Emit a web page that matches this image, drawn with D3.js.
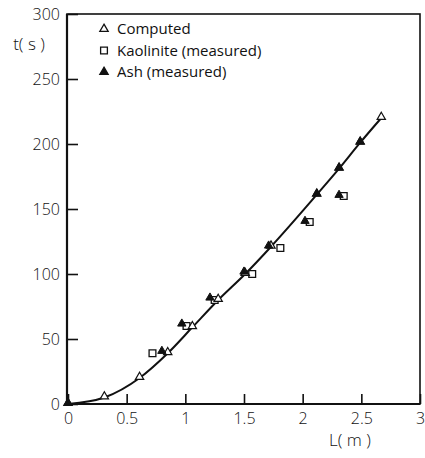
<!DOCTYPE html>
<html>
<head>
<meta charset="utf-8">
<script src="https://cdn.jsdelivr.net/npm/d3@7"></script>
<style>
  body { margin: 0; background: #fff; }
  text { font-family: "Open Sans", "DejaVu Sans", sans-serif; fill: #111; }
</style>
</head>
<body>
<svg width="425" height="458"></svg>
<script>
// values
var computedL = [0, 0.31, 0.61, 0.85, 1.06, 1.28, 1.51, 1.73, 2.12, 2.31, 2.49, 2.67];
var computedT = [0, 5, 20, 39, 59, 80, 100, 121, 161, 181, 201, 220];
var kaoliniteL = [0.72, 1.01, 1.25, 1.57, 1.81, 2.06, 2.35];
var kaoliniteT = [39, 60, 80, 100, 120, 140, 160];
var ashL = [0, 0.8, 0.97, 1.21, 1.5, 1.71, 2.02, 2.31, 2.12, 2.31, 2.49];
var ashT = [0, 40, 61, 81, 101, 121, 140, 160, 161, 181, 201];
var xTicks = [0, 0.5, 1, 1.5, 2, 2.5, 3];
var xTickLabels = ["0", "0.5", "1", "1.5", "2", "2.5", "3"];
var yTicks = [0, 50, 100, 150, 200, 250, 300];
var legendItems = ["Computed", "Kaolinite (measured)", "Ash (measured)"];

var svg = d3.select("svg"),
  margin = { top: 14, right: 5, bottom: 54, left: 68 },
  width = 420 - margin.left,
  height = 404 - margin.top;

var x = d3.scaleLinear().domain([0, 3]).range([0, 352]),
  y = d3.scaleLinear().domain([0, 300]).range([height, 0]);

var g = svg.append("g")
  .attr("transform", "translate(" + margin.left + "," + margin.top + ")");

// frame
g.append("rect")
  .attr("x", -1).attr("y", 0)
  .attr("width", width + 1).attr("height", height)
  .attr("fill", "none").attr("stroke", "#111").attr("stroke-width", 1.6);
g.append("line").attr("x1", -1).attr("x2", -1).attr("y1", 0).attr("y2", height)
  .attr("stroke", "#111").attr("stroke-width", 2.2);
g.append("line").attr("x1", -1).attr("x2", width).attr("y1", height).attr("y2", height)
  .attr("stroke", "#111").attr("stroke-width", 2.2);

// axes, ticks pointing inward
var xAxis = g.append("g")
  .attr("transform", "translate(0," + height + ")")
  .call(d3.axisBottom(x).tickValues(xTicks)
    .tickFormat(function(d, i) { return xTickLabels[i]; })
    .tickSizeInner(-10).tickSizeOuter(0).tickPadding(6));
xAxis.select(".domain").remove();
xAxis.selectAll("line").attr("stroke", "#111").attr("stroke-width", 1.6);
xAxis.selectAll("text").style("font-size", "16px").style("font-weight", "300").attr("dy", "0.85em");

var yAxis = g.append("g")
  .call(d3.axisLeft(y).tickValues(yTicks)
    .tickSizeInner(-10).tickSizeOuter(0).tickPadding(8));
yAxis.select(".domain").remove();
yAxis.selectAll("line").attr("stroke", "#111").attr("stroke-width", 1.6);
yAxis.selectAll("text").style("font-size", "16px").style("font-weight", "300");

// axis titles
svg.append("text").attr("x", 29).attr("y", 50)
  .attr("text-anchor", "middle").style("font-size", "17px").style("font-weight", "300").text("t( s )");
svg.append("text").attr("x", 350).attr("y", 446)
  .attr("text-anchor", "middle").style("font-size", "17px").style("font-weight", "300").text("L( m )");

// computed curve
var curveData = computedL.map(function(d, i) { return [d, computedT[i]]; });
g.append("path")
  .datum(curveData)
  .attr("fill", "none").attr("stroke", "#111").attr("stroke-width", 2)
  .attr("d", d3.line()
    .x(function(d) { return x(d[0]); })
    .y(function(d) { return y(d[1]); })
    .curve(d3.curveMonotoneX));

var tri = d3.symbol().type(d3.symbolTriangle).size(30);
var sq = d3.symbol().type(d3.symbolSquare).size(46);

// kaolinite squares
g.selectAll(".kao")
  .data(kaoliniteL)
  .enter().append("path")
  .attr("class", "kao")
  .attr("d", sq)
  .attr("transform", function(d, i) { return "translate(" + x(d) + "," + y(kaoliniteT[i]) + ")"; })
  .attr("fill", "#fff").attr("stroke", "#111").attr("stroke-width", 1.3);

// computed open triangles
g.selectAll(".comp")
  .data(computedL)
  .enter().append("path")
  .attr("class", "comp")
  .attr("d", tri)
  .attr("transform", function(d, i) { return "translate(" + x(d) + "," + (y(computedT[i]) - 1) + ")"; })
  .attr("fill", "#fff").attr("stroke", "#111").attr("stroke-width", 1.2);

// ash filled triangles
g.selectAll(".ash")
  .data(ashL)
  .enter().append("path")
  .attr("class", "ash")
  .attr("d", tri)
  .attr("transform", function(d, i) { return "translate(" + x(d) + "," + (y(ashT[i]) - 1) + ")"; })
  .attr("fill", "#111").attr("stroke", "#111").attr("stroke-width", 1);

// legend
var legend = svg.append("g")
  .selectAll("g")
  .data(legendItems)
  .enter().append("g")
  .attr("transform", function(d, i) { return "translate(104," + (29 + i * 21.5) + ")"; });
legend.append("path")
  .attr("d", function(d, i) { return i == 1 ? sq() : tri(); })
  .attr("fill", function(d, i) { return i == 2 ? "#111" : "#fff"; })
  .attr("stroke", "#111").attr("stroke-width", 1.3);
legend.append("text")
  .attr("x", 13).attr("dy", "0.35em")
  .style("font-size", "15px")
  .text(function(d) { return d; });
</script>
</body>
</html>
